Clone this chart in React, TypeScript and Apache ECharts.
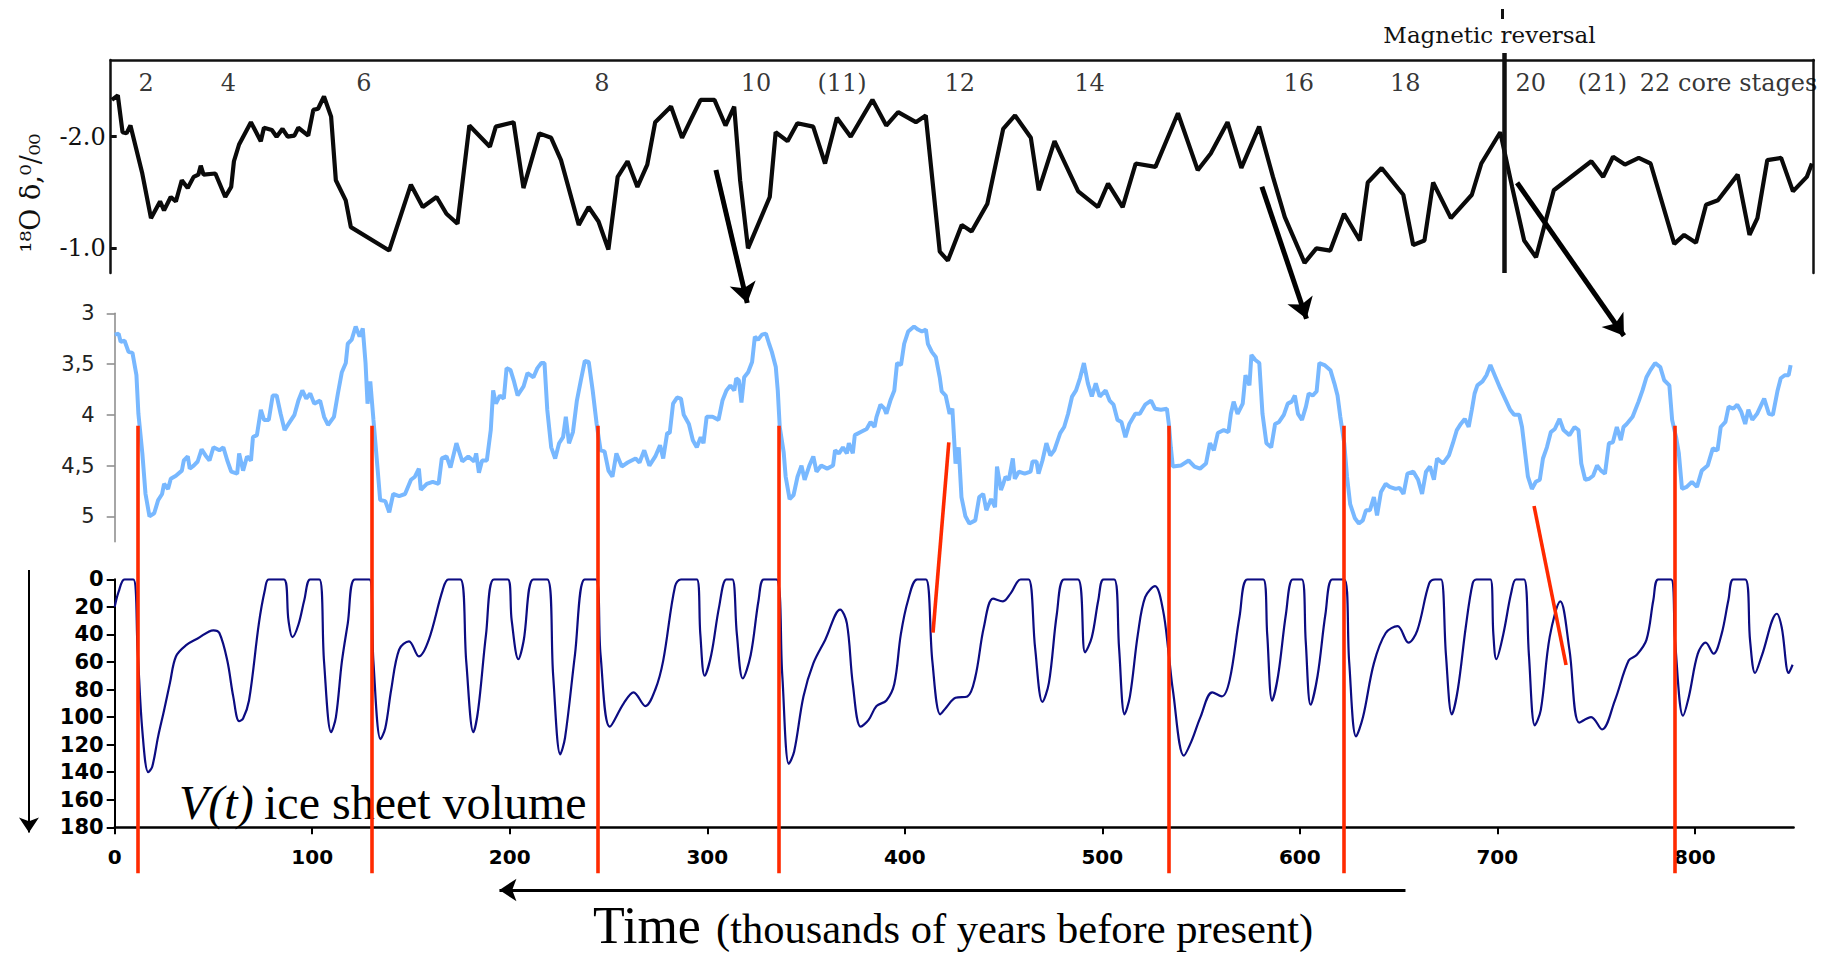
import React, { useEffect, useRef } from 'react';
import * as echarts from 'echarts';

const W = 1825;
const H = 954;

// ---- layout (pixels) ----
const X0 = 114.7; // left edge of middle & bottom plots
const XR = 31.4; // right margin of middle & bottom plots
const XMAX = 850;
const PX = (W - XR - X0) / XMAX; // px per kyr

// ---- top panel (scanned d18O record, core stages) ----
const topTrace: [number, number][] = [
  [0.6, -2.33], [3.6, -2.37], [6, -2.04], [8, -2.03], [10, -2.1], [16, -1.67], [20.4, -1.27], [25, -1.42],
  [27, -1.34], [30.4, -1.46], [33, -1.42], [36, -1.61], [39, -1.54], [42, -1.64], [44.4, -1.66], [45.6, -1.74],
  [47, -1.66], [53, -1.67], [58, -1.46], [61, -1.55], [62.4, -1.78], [65, -1.93], [71, -2.13], [76, -1.96],
  [77.6, -2.08], [81.6, -2.06], [84, -2.0], [87, -2.07], [89.6, -2.0], [93, -2.01], [95, -2.08], [100, -2.01],
  [102.6, -2.24], [105, -2.25], [108, -2.36], [111.6, -2.18], [114, -1.61], [119, -1.43], [121.6, -1.19],
  [141, -0.98], [152, -1.57], [158, -1.37], [165, -1.46], [170, -1.31], [175.6, -1.22], [181.6, -2.1],
  [192, -1.91], [195, -2.09], [204, -2.13], [209, -1.54], [217, -2.03], [223, -1.99], [228, -1.79],
  [237, -1.21], [242, -1.37], [247, -1.24], [252, -0.99], [256.7, -1.64], [261.7, -1.78], [266.7, -1.55],
  [271.7, -1.75], [275.7, -2.13], [283.7, -2.27], [289.3, -1.99], [293.7, -2.15], [298.7, -2.33],
  [305.7, -2.33], [311.3, -2.1], [315.7, -2.27], [318.7, -1.61], [322.7, -1.0], [333.7, -1.46],
  [336.7, -2.04], [342.7, -1.96], [347.7, -2.12], [355.7, -2.09], [361.7, -1.76], [367.7, -2.17],
  [374.7, -2.0], [385.7, -2.33], [392.7, -2.1], [398.7, -2.22], [407.7, -2.13], [412.7, -2.19],
  [419.8, -0.97], [423.9, -0.89], [430.9, -1.21], [435.9, -1.15], [443.9, -1.4], [451.9, -2.07],
  [457.9, -2.19], [465.9, -1.99], [469.9, -1.52], [477.9, -1.96], [489.9, -1.51], [499.9, -1.37],
  [505, -1.58], [512.4, -1.37], [519, -1.76], [529, -1.73], [540.4, -2.21], [550.4, -1.7], [557, -1.85],
  [565.5, -2.13], [572.5, -1.72], [581.5, -2.09], [588.5, -1.64], [594.5, -1.28], [604.5, -0.87],
  [610.5, -1.0], [617.5, -0.98], [624.5, -1.31], [632.5, -1.07], [636.5, -1.59], [643.5, -1.72],
  [654.5, -1.48], [659.5, -1.03], [665.2, -1.07], [669.6, -1.59], [678.6, -1.27], [689.2, -1.48],
  [694, -1.76], [703.6, -2.04], [709.6, -1.55], [715.7, -1.07], [721.7, -0.92], [730.7, -1.52],
  [749.7, -1.78], [755.7, -1.64], [760.7, -1.82], [766.7, -1.75], [773.7, -1.81], [779.7, -1.76],
  [791.7, -1.04], [796.7, -1.12], [802.7, -1.05], [807.8, -1.39], [813.8, -1.43], [823.8, -1.66],
  [829.8, -1.12], [833.8, -1.27], [838.8, -1.79], [845.8, -1.81], [851.8, -1.51], [858.8, -1.64],
  [861.4, -1.76],
];
const topTicks = [-2.0, -1.0];
const stageLabels = ['2', '4', '6', '8', '10', '(11)', '12', '14', '16', '18', '20', '(21)', '22 core stages'];
const stageX = [18.0, 59.6, 128.2, 248.7, 326.8, 370.3, 429.9, 495.6, 601.6, 655.5, 719.0, 755.3, 819.2];
const STAGE_ROW = -2.48;

// ---- middle panel (light blue record) ----
const blueTrace: [number, number][] = [
  [0, 3.21], [2, 3.2], [3, 3.28], [5, 3.27], [7, 3.38], [9, 3.39], [11, 3.61], [12, 3.99], [14, 4.38],
  [15.6, 4.78], [17.6, 5.0], [20, 4.97], [22, 4.84], [24, 4.78], [25, 4.68], [27, 4.73], [28.4, 4.63],
  [31, 4.6], [34, 4.55], [35, 4.45], [37, 4.41], [38, 4.53], [40, 4.5], [42, 4.46], [44, 4.34], [46, 4.4],
  [48, 4.45], [50, 4.32], [53, 4.35], [55, 4.32], [57, 4.45], [59, 4.56], [62, 4.58], [63, 4.38], [65, 4.55],
  [67, 4.41], [69, 4.45], [70, 4.22], [72, 4.2], [74, 3.95], [75.6, 4.05], [78, 4.05], [80, 3.81], [82, 3.81],
  [84, 3.99], [86, 4.15], [88, 4.09], [91, 4.0], [93, 3.86], [95, 3.76], [97, 3.84], [99, 3.79], [101, 3.89],
  [104, 3.86], [106, 4.02], [108, 4.1], [111, 4.02], [113, 3.79], [115, 3.58], [117, 3.49], [118, 3.3],
  [120, 3.26], [122, 3.13], [124, 3.23], [125.6, 3.15], [127, 3.49], [128, 3.89], [129.4, 3.67], [131, 4.05],
  [133, 4.51], [134.4, 4.84], [137, 4.85], [139, 4.96], [141, 4.78], [144, 4.8], [147, 4.78], [150, 4.64],
  [152, 4.61], [154, 4.53], [155, 4.74], [158, 4.68], [161, 4.66], [164, 4.68], [165.6, 4.43], [168, 4.41],
  [170, 4.52], [173, 4.28], [176, 4.46], [179, 4.41], [182, 4.46], [183, 4.38], [184.4, 4.57], [186, 4.45],
  [188.4, 4.45], [190.4, 4.15], [191.6, 3.76], [193, 3.89], [195, 3.81], [197, 3.84], [198.4, 3.54],
  [200.4, 3.56], [202, 3.66], [204, 3.81], [207, 3.72], [209, 3.59], [212, 3.63], [214, 3.54], [216, 3.49],
  [217.6, 3.49], [219, 3.95], [221, 4.32], [223, 4.43], [225, 4.28], [227, 4.22], [228.4, 4.02], [230, 4.28],
  [232, 4.17], [234, 3.86], [236, 3.66], [238, 3.47], [240, 3.48], [242, 3.76], [244, 4.09], [246, 4.35],
  [248, 4.36], [250, 4.55], [252, 4.61], [254, 4.38], [256.7, 4.51], [259.7, 4.47], [263.7, 4.43],
  [265.7, 4.47], [268.1, 4.35], [270.7, 4.5], [273.7, 4.41], [276.1, 4.3], [277.7, 4.43], [279.7, 4.18],
  [281, 4.18], [282.7, 3.89], [284.7, 3.83], [286.7, 3.84], [288.1, 4.0], [290.7, 4.09], [292.7, 4.25],
  [294.7, 4.32], [296.7, 4.22], [298.1, 4.28], [299.7, 4.02], [302.7, 4.02], [305.7, 4.05], [307.7, 3.86],
  [309.7, 3.76], [311.7, 3.71], [313.7, 3.76], [314.7, 3.64], [316, 3.66], [317.3, 3.88], [318.7, 3.63],
  [320.7, 3.58], [322.7, 3.48], [324.1, 3.23], [325.7, 3.26], [327.7, 3.21], [329.7, 3.2], [331.3, 3.3],
  [332.7, 3.38], [334.7, 3.53], [335.7, 3.76], [336.7, 4.12], [338.7, 4.37], [339.7, 4.61], [341.7, 4.83],
  [343.7, 4.79], [345.7, 4.61], [347.7, 4.5], [349.3, 4.64], [351.7, 4.5], [353.7, 4.41], [355.3, 4.56],
  [357.7, 4.5], [360.7, 4.53], [363.7, 4.5], [364.7, 4.35], [366.7, 4.38], [368.7, 4.32], [370.7, 4.38],
  [371.7, 4.28], [373.7, 4.38], [374.7, 4.2], [377.7, 4.17], [380.7, 4.14], [382.7, 4.07], [384.7, 4.12],
  [385.7, 4.02], [387.7, 3.9], [389.7, 3.94], [390.7, 3.99], [392.7, 3.86], [394.7, 3.76], [396.1, 3.49],
  [398.1, 3.51], [399.7, 3.3], [401.7, 3.18], [404.7, 3.13], [406.7, 3.16], [408.7, 3.18], [410.7, 3.16],
  [411.7, 3.3], [413.7, 3.38], [415.7, 3.43], [417.7, 3.63], [418.7, 3.77], [420.7, 3.81], [422.7, 3.99],
  [424.1, 3.94], [425.7, 4.48], [427.3, 4.32], [428.7, 4.81], [430.7, 5.0], [432.7, 5.07], [435.7, 5.04],
  [437.7, 4.81], [439.7, 4.78], [441.3, 4.94], [443.7, 4.83], [445.7, 4.91], [446.7, 4.51], [448.7, 4.74],
  [449.7, 4.69], [451, 4.61], [452.7, 4.64], [454.7, 4.43], [455.7, 4.63], [457.7, 4.56], [460.7, 4.58],
  [463.7, 4.56], [464.7, 4.46], [466.7, 4.46], [467.7, 4.58], [469.7, 4.45], [471.7, 4.28], [473.7, 4.4],
  [475.7, 4.35], [478.7, 4.18], [480.7, 4.12], [482.7, 3.99], [484.7, 3.82], [486.7, 3.76], [488.7, 3.64],
  [490.7, 3.49], [492.7, 3.69], [494.7, 3.82], [496.7, 3.69], [498.7, 3.82], [501.7, 3.76], [503.7, 3.86],
  [505.7, 3.9], [507.7, 4.05], [509.7, 4.07], [511.7, 4.22], [513.7, 4.09], [516.7, 3.99], [519, 3.99],
  [521.7, 3.9], [524.7, 3.86], [526.7, 3.94], [529.7, 3.95], [532.7, 3.94], [533.7, 4.09], [534.7, 4.32],
  [535.7, 4.51], [539.7, 4.5], [543.7, 4.45], [546.7, 4.51], [549.5, 4.53], [552.5, 4.48], [554.5, 4.28],
  [556.5, 4.35], [558.5, 4.18], [561.5, 4.15], [563.9, 4.17], [565.1, 3.99], [566.5, 3.87], [568.5, 3.99],
  [571.1, 3.89], [572.5, 3.61], [574.5, 3.71], [575.5, 3.41], [577.5, 3.46], [579.5, 3.49], [581.1, 3.99],
  [583.1, 4.28], [585.5, 4.32], [587.5, 4.09], [589.5, 4.07], [591.9, 4.0], [593.9, 3.89], [595.9, 3.87],
  [597.5, 3.81], [599.1, 3.99], [601.1, 4.05], [603.1, 3.92], [604.5, 3.79], [606.5, 3.81], [608.5, 3.77],
  [609.9, 3.49], [612.5, 3.51], [615.5, 3.56], [617.5, 3.69], [619.1, 3.81], [620.5, 4.02], [622.5, 4.28],
  [623.9, 4.61], [625.5, 4.88], [627.9, 5.02], [629.9, 5.07], [631.9, 5.04], [633.5, 4.94], [635.5, 4.94],
  [637.5, 4.81], [639.1, 4.99], [641.1, 4.76], [643.5, 4.68], [645.5, 4.71], [648.5, 4.73], [650.5, 4.72],
  [652.5, 4.78], [654.5, 4.58], [657.5, 4.56], [659.9, 4.64], [661.9, 4.78], [663.9, 4.56], [665.9, 4.51],
  [667.9, 4.64], [669.5, 4.43], [672.5, 4.48], [675.5, 4.4], [677.5, 4.28], [679.5, 4.15], [681.5, 4.09],
  [683.5, 4.04], [685.5, 4.12], [687.1, 3.95], [688.5, 3.79], [689.9, 3.71], [692.5, 3.67], [694.5, 3.61],
  [696.5, 3.51], [699.1, 3.63], [701.5, 3.74], [703.9, 3.84], [706.5, 3.95], [708.5, 4.0], [711.1, 4.0],
  [712.5, 4.12], [713.9, 4.35], [715.5, 4.61], [717.5, 4.73], [719.5, 4.66], [721.5, 4.64], [723.1, 4.43],
  [725.1, 4.32], [727.1, 4.17], [729.1, 4.14], [731.5, 4.04], [733.5, 4.15], [736.5, 4.2], [739.1, 4.12],
  [741.1, 4.15], [742.5, 4.48], [744.5, 4.64], [746.5, 4.63], [748.5, 4.6], [750.5, 4.5], [752.5, 4.55],
  [754.5, 4.58], [756.5, 4.28], [758.5, 4.27], [760.5, 4.12], [762.5, 4.25], [763.9, 4.12], [765.5, 4.09],
  [768.5, 4.02], [771.5, 3.87], [773.5, 3.76], [775.5, 3.63], [777.5, 3.56], [779.9, 3.49], [782.5, 3.53],
  [784.5, 3.66], [787.1, 3.71], [788.5, 4.05], [790.5, 4.22], [791.9, 4.38], [793.5, 4.73], [795.9, 4.71],
  [798.5, 4.66], [801.1, 4.71], [803.5, 4.55], [806.5, 4.5], [809.1, 4.33], [811.5, 4.35], [813.1, 4.12],
  [815.5, 4.07], [817.1, 3.92], [819.5, 3.94], [821.5, 3.9], [823.5, 3.97], [825.5, 4.09], [827.1, 3.95],
  [829.1, 4.05], [831.5, 3.99], [835.1, 3.84], [837.5, 3.99], [839.5, 4.0], [841.9, 3.76], [843.5, 3.64],
  [845.5, 3.61], [847.5, 3.61], [848.5, 3.51],
];
const blueTicks = [3, 3.5, 4, 4.5, 5];

// ---- bottom panel: V(t) ice sheet volume ----
const volumeTrace: [number, number][] = [
  [0, 20], [2, 9], [5, 0], [9.4, 0], [11.6, 51], [14, 110], [17, 140], [19, 136], [22, 114], [25, 95],
  [28, 75], [31, 56], [36, 48], [42, 43], [50, 37], [53, 39], [57, 59], [60, 85], [63, 103], [65, 101],
  [68, 88], [73, 32], [76, 8], [78, 0], [85.6, 0], [88, 30], [90, 42], [93, 33], [96, 15], [99, 0],
  [103.6, 0], [106, 60], [109.6, 111], [112, 100], [115, 60], [118, 32], [121.6, 0], [129, 0], [131, 60],
  [134.6, 116], [137, 108], [140, 80], [144, 51], [149, 45], [154, 56], [159, 44], [166, 8], [169, 0],
  [175, 0], [178, 60], [181.6, 111], [184, 95], [188, 40], [192, 0], [199, 0], [201, 30], [204.4, 58],
  [207, 45], [212, 0], [219, 0], [222, 70], [225.6, 127], [228, 115], [233, 55], [238, 0], [243.6, 0],
  [246, 55], [250.7, 107], [257.7, 90], [262.7, 82], [268.7, 92], [273.7, 80], [277.7, 59], [283.7, 5],
  [286.7, 0], [294.7, 0], [296.5, 40], [298.7, 70], [302, 55], [306, 20], [309.7, 0], [312.7, 0], [315, 40],
  [318, 72], [322, 55], [326, 15], [328.7, 0], [335, 0], [338, 70], [341.3, 134], [344, 125], [348.7, 85],
  [353.7, 61], [359.7, 44], [367.3, 22], [370.7, 32], [373.7, 76], [377.7, 107], [381.7, 102], [385.7, 92],
  [390.7, 88], [394.7, 76], [398, 40], [401.7, 15], [406.3, 0], [410.7, 0], [414, 60], [418, 98], [421, 93],
  [425.7, 86], [431.7, 85], [435.7, 71], [440, 35], [444.7, 14], [449.7, 16], [453.7, 10], [458.7, 0],
  [462.7, 0], [466, 50], [469.7, 89], [473, 75], [477, 25], [480.7, 0], [487.7, 0], [491.3, 53], [494.7, 42],
  [498, 15], [500.7, 0], [506, 0], [508.5, 50], [511.3, 98], [514, 85], [518, 40], [521.7, 13], [526.7, 5],
  [530.7, 22], [533.7, 55], [535.7, 80], [541.3, 128], [545, 118], [549.7, 100], [555.7, 82], [560.5, 85],
  [564.5, 73], [569.5, 27], [573.5, 0], [581.5, 0], [583.5, 40], [586, 88], [589, 70], [593, 25], [596.5, 0],
  [601, 0], [603, 45], [605.5, 91], [609, 70], [613, 25], [616.5, 0], [622.5, 0], [625, 60], [628.5, 114],
  [632, 100], [637.5, 61], [643.5, 39], [649.5, 34], [655, 46], [659.5, 37], [665.5, 3], [668.5, 0],
  [671.5, 0], [674, 55], [677, 98], [680, 80], [684, 35], [687.5, 3], [689.5, 0], [696.5, 0], [698, 40],
  [699.5, 58], [703, 40], [707, 10], [709.5, 0], [713.5, 0], [716, 55], [719, 106], [722, 95], [726.5, 42],
  [731.9, 16], [736.5, 51], [741.5, 104], [747.5, 100], [753, 109], [759.5, 88], [766.5, 59], [770.5, 55],
  [775.5, 44], [779, 15], [781.5, 0], [788, 0], [790, 45], [794, 99], [797, 85], [801.5, 54], [805.5, 46],
  [809.5, 54], [813.5, 40], [817, 15], [819.5, 0], [825.5, 0], [828, 45], [830.5, 68], [834, 55],
  [841.5, 25], [844, 35], [847.5, 68], [849.5, 62],
];
const timeTicks = [0, 100, 200, 300, 400, 500, 600, 700, 800];

// ---- annotations: x in kyr (bottom axis), y in page pixels ----
const terminationsKyr = [11.5, 130, 244.8, 336.3, 533.6, 622.5, 790];
const TERM_TOP = 425.7;
const TERM_BOTTOM = 873.3;
const slantedRed: [number, number][][] = [
  [[422.3, 442.3], [414.3, 632.7]],
  [[718.6, 506], [734.8, 665]],
];
const linkArrows: [number, number][][] = [
  [[304.4, 170], [321.4, 312.7]],
  [[580.8, 186.7], [605, 328.3]],
  [[710, 182.7], [767, 344]],
];
const timeArrow: [number, number][] = [[653.5, 890], [190.5, 890]];
const volumeArrow: [number, number][] = [[-43.4, 570], [-43.4, 840]];
const reversalLine: [number, number][] = [[703.3, 53], [703.3, 273]];
const reversalMark: [number, number][] = [[702.3, 9], [702.3, 19]];

function shortenForHead(seg: [number, number][], head: number): [number, number][] {
  const [a, b] = seg;
  const dx = (b[0] - a[0]) * PX;
  const dy = b[1] - a[1];
  const len = Math.hypot(dx, dy);
  const k = head / 2 / len;
  return [a, [b[0] - (dx * k) / PX, b[1] - dy * k]];
}

const TOP_MIN = -2.687;
const TOP_MAX = -0.779;

export default function App() {
  const ref = useRef<HTMLDivElement>(null);
  useEffect(() => {
    if (!ref.current) return;
    const chart = echarts.init(ref.current, undefined, { renderer: 'svg' });
    const serif = 'DejaVu Serif';
    const times = 'Liberation Serif';
    const sans = 'DejaVu Sans';

    const lineSeries = (
      name: string,
      segs: [number, number][][],
      color: string,
      width: number,
      head: number | null,
    ) => ({
      type: 'lines',
      name,
      coordinateSystem: 'cartesian2d',
      xAxisIndex: 3,
      yAxisIndex: 4,
      silent: true,
      clip: false,
      z: 10,
      symbol: head ? ['none', 'arrow'] : ['none', 'none'],
      symbolSize: head || 0,
      lineStyle: { color, width, opacity: 1, curveness: 0 },
      itemStyle: { color },
      data: segs.map((s) => ({ coords: head ? shortenForHead(s, head) : s })),
    });

    const option: any = {
      animation: false,
      backgroundColor: '#ffffff',
      grid: [
        { left: 110.7, right: 11.3, top: 60, height: 213 },
        { left: X0, right: XR, top: 313.3, height: 228.4 },
        { left: X0, right: XR, top: 579.3, height: 248 },
        { left: 0, right: 0, top: 0, height: H },
      ],
      xAxis: [
        {
          gridIndex: 0, type: 'value', position: 'top', min: 0, max: 862.3,
          axisLine: { show: true, onZero: false, lineStyle: { color: '#111', width: 2.5 } },
          axisTick: { show: false }, axisLabel: { show: false }, splitLine: { show: false },
        },
        { gridIndex: 1, type: 'value', min: 0, max: XMAX, show: false },
        {
          gridIndex: 2, type: 'value', min: 0, max: XMAX,
          axisLine: { show: true, onZero: false, lineStyle: { color: '#000', width: 2.5 } },
          axisTick: { show: true, customValues: timeTicks, length: 7, lineStyle: { color: '#000', width: 2 } },
          axisLabel: {
            show: true, customValues: timeTicks, margin: 20, fontFamily: sans, fontWeight: 'bold',
            fontSize: 20, color: '#000',
          },
          splitLine: { show: false },
        },
        { gridIndex: 3, type: 'value', min: -X0 / PX, max: (W - X0) / PX, show: false },
      ],
      yAxis: [
        {
          gridIndex: 0, type: 'value', inverse: true, min: TOP_MIN, max: TOP_MAX,
          axisLine: { show: true, onZero: false, lineStyle: { color: '#111', width: 2.5 } },
          axisTick: { show: true, inside: true, customValues: topTicks, length: 6, lineStyle: { color: '#111', width: 3 } },
          axisLabel: {
            show: true, customValues: topTicks, margin: 5, fontFamily: serif, fontSize: 24, color: '#111',
            formatter: (v: number) => v.toFixed(1),
          },
          splitLine: { show: false },
        },
        {
          gridIndex: 0, type: 'value', position: 'right', inverse: true, min: TOP_MIN, max: TOP_MAX,
          axisLine: { show: true, onZero: false, lineStyle: { color: '#111', width: 2.5 } },
          axisTick: { show: false }, axisLabel: { show: false }, splitLine: { show: false },
        },
        {
          gridIndex: 1, type: 'value', inverse: true, min: 3, max: 5.25,
          axisLine: { show: true, onZero: false, lineStyle: { color: '#888', width: 1.5 } },
          axisTick: { show: true, customValues: blueTicks, length: 8, lineStyle: { color: '#888', width: 1.5 } },
          axisLabel: {
            show: true, customValues: blueTicks, margin: 20, fontFamily: sans, fontSize: 21, color: '#222',
            formatter: (v: number) => String(v).replace('.', ','),
          },
          splitLine: { show: false },
        },
        {
          gridIndex: 2, type: 'value', inverse: true, min: 0, max: 180, interval: 20,
          axisLine: { show: true, onZero: false, lineStyle: { color: '#000', width: 2 } },
          axisTick: { show: true, length: 8, lineStyle: { color: '#000', width: 2 } },
          axisLabel: { show: true, margin: 11, fontFamily: sans, fontWeight: 'bold', fontSize: 21, color: '#000' },
          splitLine: { show: false },
        },
        { gridIndex: 3, type: 'value', inverse: true, min: 0, max: H, show: false },
      ],
      series: [
        {
          type: 'line', name: 'δ18O core record', xAxisIndex: 0, yAxisIndex: 0, data: topTrace,
          showSymbol: false, symbol: 'none', lineStyle: { color: '#0a0a0a', width: 4.2 }, z: 3,
        },
        {
          type: 'scatter', name: 'core stages', xAxisIndex: 0, yAxisIndex: 0, symbolSize: 1,
          itemStyle: { color: 'rgba(0,0,0,0)' }, silent: true,
          data: stageX.map((x, i) => ({ name: stageLabels[i], value: [x, STAGE_ROW] })),
          label: {
            show: true, position: 'inside', formatter: '{b}', fontFamily: serif, fontSize: 24, color: '#000',
          },
        },
        {
          type: 'line', name: 'blue record', xAxisIndex: 1, yAxisIndex: 2, data: blueTrace,
          showSymbol: false, symbol: 'none', lineStyle: { color: '#78b8ff', width: 4 }, z: 2,
        },
        {
          type: 'line', name: 'V(t)', xAxisIndex: 2, yAxisIndex: 3, data: volumeTrace, smooth: 0.35,
          showSymbol: false, symbol: 'none', lineStyle: { color: '#0c0c82', width: 2.2 }, z: 2,
        },
        lineSeries('terminations', terminationsKyr.map((x) => [[x, TERM_TOP], [x, TERM_BOTTOM]] as [number, number][]), '#ff2a00', 3.6, null),
        lineSeries('slanted', slantedRed, '#ff2a00', 3.6, null),
        lineSeries('links', linkArrows, '#000', 5, 20),
        lineSeries('time arrow', [timeArrow], '#000', 3, 17),
        lineSeries('volume arrow', [volumeArrow], '#000', 2, 15),
        lineSeries('reversal', [reversalLine], '#111', 4.5, null),
        lineSeries('reversal mark', [reversalMark], '#111', 3, null),
      ],
      graphic: [
        {
          type: 'text', x: 1489.5, y: 35,
          style: { text: 'Magnetic reversal', fontFamily: serif, fontSize: 23, fill: '#111', align: 'center', verticalAlign: 'middle' },
        },
        {
          type: 'text', x: 30, y: 193, rotation: Math.PI / 2,
          style: { text: '¹⁸O δ,⁰/₀₀', fontFamily: serif, fontSize: 27, fill: '#111', align: 'center', verticalAlign: 'middle' },
        },
        {
          type: 'text', x: 179, y: 802,
          style: { text: 'V(t)', fontFamily: times, fontStyle: 'italic', fontSize: 48, fill: '#000', align: 'left', verticalAlign: 'middle' },
        },
        {
          type: 'text', x: 264, y: 802,
          style: { text: 'ice sheet volume', fontFamily: times, fontSize: 48, fill: '#000', align: 'left', verticalAlign: 'middle' },
        },
        {
          type: 'text', x: 593, y: 925,
          style: { text: 'Time', fontFamily: times, fontSize: 52, fill: '#000', align: 'left', verticalAlign: 'middle' },
        },
        {
          type: 'text', x: 716, y: 928.5,
          style: { text: '(thousands of years before present)', fontFamily: times, fontSize: 42.5, fill: '#000', align: 'left', verticalAlign: 'middle' },
        },
      ],
    };
    chart.setOption(option);
    return () => chart.dispose();
  }, []);
  return (
    <div
      ref={ref}
      style={{ position: 'absolute', left: 0, top: 0, width: W, height: H, background: '#fff' }}
    />
  );
}
